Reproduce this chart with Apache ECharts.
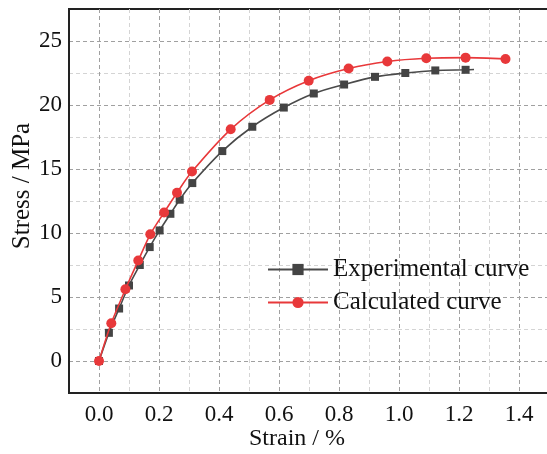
<!DOCTYPE html>
<html>
<head>
<meta charset="utf-8">
<script src="https://cdn.jsdelivr.net/npm/echarts@6/dist/echarts.min.js"></script>
<style>html,body{margin:0;padding:0;background:#fff;}#c{width:547px;height:454px;}</style>
</head>
<body>
<div id="c"></div>
<script>
// Data
const seriesNames = ['Experimental curve', 'Calculated curve'];
const expStrain = [0, 0.033, 0.067, 0.100, 0.136, 0.169, 0.202, 0.238, 0.269, 0.311, 0.411, 0.511, 0.616, 0.716, 0.817, 0.920, 1.021, 1.121, 1.222];
const expStress = [0, 2.2, 4.1, 5.9, 7.5, 8.9, 10.2, 11.5, 12.6, 13.9, 16.4, 18.3, 19.8, 20.9, 21.6, 22.2, 22.5, 22.7, 22.75];
const expTail = [1.25, 22.77]; // end of the experimental line, no marker
const calcStrain = [0, 0.041, 0.088, 0.131, 0.171, 0.217, 0.260, 0.310, 0.439, 0.569, 0.699, 0.832, 0.961, 1.091, 1.222, 1.355];
const calcStress = [0, 2.95, 5.6, 7.85, 9.9, 11.6, 13.15, 14.8, 18.1, 20.4, 21.9, 22.85, 23.4, 23.65, 23.7, 23.6];
const xTickLabels = ['0.0', '0.2', '0.4', '0.6', '0.8', '1.0', '1.2', '1.4'];
const yTickLabels = ['0', '5', '10', '15', '20', '25'];

const FONT = "'Liberation Serif', 'Times New Roman', serif";
const chart = echarts.init(document.getElementById('c'), null, {renderer: 'canvas'});

const expData = expStrain.map((x, i) => [x, expStress[i]]);
expData.push({value: expTail, symbol: 'none'});
const calcData = calcStrain.map((x, i) => [x, calcStress[i]]);

function xLabel(v) {
  const s = (Math.round(v * 10) / 10).toFixed(1);
  return xTickLabels.indexOf(s) >= 0 ? s : '';
}
function yLabel(v) {
  const s = String(Math.round(v * 10) / 10);
  return yTickLabels.indexOf(s) >= 0 ? s : '';
}

chart.setOption({
  animation: false,
  backgroundColor: '#fff',
  textStyle: {fontFamily: FONT},
  grid: {left: 69, top: 9, right: -2, bottom: 61, outerBoundsMode: 'none', containLabel: false,
         show: true, borderColor: '#222', borderWidth: 2, backgroundColor: 'transparent'},
  legend: {
    orient: 'vertical', left: 262, top: 252, itemWidth: 60, itemHeight: 14, itemGap: 8,
    textStyle: {fontFamily: FONT, fontSize: 25, color: '#111'},
    data: seriesNames
  },
  xAxis: {
    type: 'value', min: -0.1, max: 1.5, interval: 0.1,
    name: 'Strain / %', nameLocation: 'middle', nameGap: 34, nameMoveOverlap: false,
    nameTextStyle: {fontFamily: FONT, fontSize: 24, color: '#111', padding: [0, 24, 0, 0]},
    axisLine: {show: true, onZero: false, lineStyle: {color: '#222', width: 2}},
    axisTick: {show: false},
    axisLabel: {formatter: xLabel, fontFamily: FONT, fontSize: 23, color: '#111', margin: 10},
    splitLine: {show: true, showMinLine: false, showMaxLine: false, lineStyle: {type: [4, 3], width: 1, color: ['#a0a0a0', '#d4d4d4']}}
  },
  yAxis: {
    type: 'value', min: -2.5, max: 27.5, interval: 2.5,
    name: 'Stress / MPa', nameLocation: 'middle', nameGap: 34, nameRotate: 90, nameMoveOverlap: false,
    nameTextStyle: {fontFamily: FONT, fontSize: 25, color: '#111', padding: [0, 0, 0, 30]},
    axisLine: {show: true, onZero: false, lineStyle: {color: '#222', width: 2}},
    axisTick: {show: false},
    axisLabel: {formatter: yLabel, fontFamily: FONT, fontSize: 23, color: '#111', margin: 7},
    splitLine: {show: true, showMinLine: false, showMaxLine: false, lineStyle: {type: [4, 3], width: 1, color: ['#a0a0a0', '#d4d4d4']}}
  },
  series: [
    {
      name: seriesNames[0], type: 'line', data: expData, smooth: 0.3,
      symbol: 'rect', symbolSize: 8, z: 2,
      lineStyle: {color: '#4a4a4a', width: 1.6},
      itemStyle: {color: '#444'}
    },
    {
      name: seriesNames[1], type: 'line', data: calcData, smooth: 0.3,
      symbol: 'circle', symbolSize: 10, z: 3,
      lineStyle: {color: '#e8383a', width: 1.6},
      itemStyle: {color: '#e8383a'}
    }
  ]
});
</script>
</body>
</html>
